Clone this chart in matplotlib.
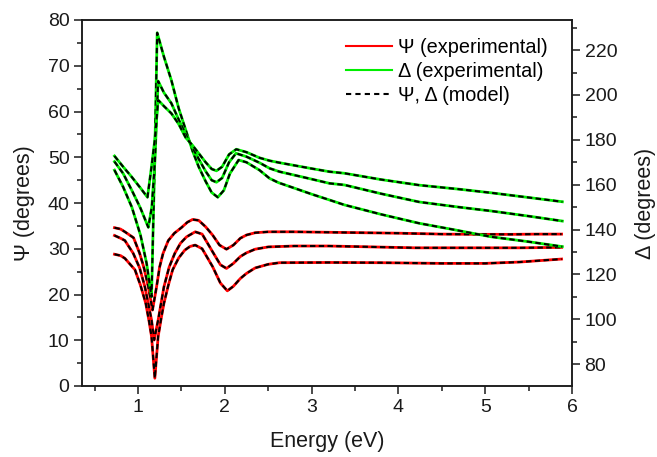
import numpy as np
import matplotlib
matplotlib.use('Agg')
import matplotlib.pyplot as plt
from matplotlib.lines import Line2D
from matplotlib.ticker import MultipleLocator

plt.rcParams['font.family'] = ['Liberation Sans', 'DejaVu Sans']

# Psi (left axis), three angles of incidence
e_psi_top = [0.73, 0.80, 0.85, 0.95, 1.02, 1.07, 1.12, 1.168, 1.215, 1.25, 1.29, 1.35,
             1.42, 1.50, 1.57, 1.63, 1.70, 1.78, 1.86, 1.94, 2.02, 2.10, 2.18, 2.25,
             2.35, 2.5, 2.8, 3.2, 3.6, 4.0, 4.5, 4.9, 5.3, 5.6, 5.88]
psi_top = [34.6, 34.3, 33.7, 32.4, 29.0, 25.8, 21.7, 16.6, 21.7, 26.0, 29.0, 31.8,
           33.4, 34.6, 35.8, 36.4, 36.2, 34.8, 33.0, 30.8, 29.9, 30.8, 32.3, 33.0,
           33.5, 33.7, 33.7, 33.6, 33.5, 33.4, 33.2, 33.15, 33.15, 33.2, 33.2]

e_psi_mid = [0.73, 0.80, 0.85, 0.946, 1.02, 1.08, 1.125, 1.157, 1.187, 1.233, 1.30, 1.36,
             1.425, 1.49, 1.56, 1.66, 1.74, 1.86, 1.95, 2.02, 2.10, 2.18, 2.25, 2.35,
             2.5, 2.8, 3.2, 3.7, 4.2, 4.9, 5.4, 5.88]
psi_mid = [32.9, 32.3, 31.8, 29.0, 25.8, 21.7, 17.5, 14.4, 10.05, 14.4, 21.7, 26.0,
           29.0, 31.2, 32.6, 33.7, 33.2, 29.35, 26.5, 25.7, 26.8, 28.3, 29.1, 29.9,
           30.4, 30.6, 30.6, 30.4, 30.2, 30.2, 30.2, 30.3]

e_psi_bot = [0.73, 0.80, 0.85, 0.966, 1.03, 1.09, 1.13, 1.157, 1.195, 1.233, 1.27, 1.30,
             1.35, 1.40, 1.47, 1.54, 1.60, 1.66, 1.74, 1.86, 1.95, 2.03, 2.10, 2.18,
             2.25, 2.35, 2.5, 2.63, 3.2, 3.8, 4.5, 5.0, 5.4, 5.88]
psi_bot = [28.8, 28.5, 27.9, 25.4, 22.0, 18.1, 14.0, 10.8, 1.7, 10.8, 15.0, 18.1,
           22.0, 25.4, 28.0, 29.7, 30.5, 30.8, 30.0, 26.1, 22.5, 20.8, 21.8, 23.5,
           24.6, 25.8, 26.6, 26.95, 27.0, 26.95, 26.8, 26.8, 27.1, 27.75]

# Delta (right axis)
e_del_a = [0.73, 0.83, 0.93, 1.03, 1.10, 1.157, 1.19, 1.222, 1.30, 1.385, 1.47, 1.55,
           1.63, 1.70, 1.78, 1.85, 1.92, 1.99, 2.06, 2.16, 2.25, 2.4, 2.517, 2.62,
           2.8, 3.0, 3.207, 3.379, 3.8, 4.241, 4.62, 5.066, 5.5, 5.889]
del_a = [166.5, 159.0, 150.0, 137.5, 125.0, 110.1, 165.0, 227.7, 217.0, 206.6, 194.0, 184.5,
         175.0, 168.0, 161.5, 156.5, 154.4, 157.5, 165.0, 171.0, 170.0, 166.5, 162.8, 160.9,
         158.5, 155.8, 153.2, 151.0, 146.8, 142.8, 140.1, 136.8, 134.6, 132.4]

e_del_b = [0.73, 0.83, 0.93, 1.03, 1.12, 1.16, 1.195, 1.233, 1.30, 1.385, 1.47, 1.55,
           1.63, 1.70, 1.78, 1.85, 1.905, 1.97, 2.05, 2.13, 2.25, 2.4, 2.517, 2.632,
           3.0, 3.207, 3.379, 3.8, 4.241, 4.7, 5.066, 5.5, 5.889]
del_b = [170.3, 165.0, 157.5, 149.5, 141.0, 150.0, 170.0, 206.2, 201.0, 196.3, 189.0, 182.5,
         176.5, 171.5, 166.0, 162.0, 161.1, 163.0, 170.0, 174.0, 172.5, 169.8, 167.3, 165.8,
         162.5, 160.6, 159.9, 156.0, 152.3, 150.0, 148.3, 146.0, 143.8]

e_del_c = [0.73, 0.83, 0.93, 1.03, 1.11, 1.15, 1.195, 1.233, 1.30, 1.385, 1.47, 1.55,
           1.63, 1.70, 1.78, 1.85, 1.905, 1.97, 2.05, 2.133, 2.25, 2.4, 2.517, 2.632,
           3.0, 3.207, 3.379, 3.8, 4.241, 4.7, 5.066, 5.5, 5.889]
del_c = [172.8, 168.0, 163.4, 158.5, 154.4, 166.0, 180.0, 197.7, 195.0, 191.8, 187.0, 181.0,
         177.5, 174.0, 170.0, 167.0, 166.2, 168.0, 173.5, 175.8, 174.5, 172.0, 170.7, 169.8,
         167.2, 165.8, 165.1, 162.3, 159.8, 158.0, 156.4, 154.3, 152.4]

psi_curves = [(e_psi_top, psi_top), (e_psi_mid, psi_mid), (e_psi_bot, psi_bot)]
del_curves = [(e_del_a, del_a), (e_del_b, del_b), (e_del_c, del_c)]

dash = (2.6, 1.6)
col_txt = '#1a1a1a'

fig = plt.figure(figsize=(6.57, 4.57), dpi=100)
ax1 = fig.add_axes([82/657, 1 - 386/457, 490/657, 366/457])
ax2 = ax1.twinx()

for e, p in psi_curves:
    ax1.plot(e, p, color='#ff0000', lw=2.0)
    ax1.plot(e, p, color='black', lw=1.5, dashes=dash)
for e, d in del_curves:
    ax2.plot(e, d, color='#00ee00', lw=2.0)
    ax2.plot(e, d, color='black', lw=1.5, dashes=dash)

ax1.set_xlim(0.356, 6)
ax1.set_ylim(0, 80)
ax2.set_ylim(70.3, 233.4)

ax1.xaxis.set_major_locator(MultipleLocator(1))
ax1.xaxis.set_minor_locator(MultipleLocator(0.5))
ax1.yaxis.set_major_locator(MultipleLocator(10))
ax1.yaxis.set_minor_locator(MultipleLocator(5))
ax2.yaxis.set_major_locator(MultipleLocator(20))
ax2.yaxis.set_minor_locator(MultipleLocator(10))

for ax in (ax1, ax2):
    ax.tick_params(which='major', direction='out', length=6, width=1.1,
                   labelsize=14, colors=col_txt, pad=3)
    ax.tick_params(which='minor', direction='out', length=3.5, width=1.1, colors=col_txt)
    for s in ax.spines.values():
        s.set_linewidth(1.1)
        s.set_color(col_txt)

ax1.set_xlabel('Energy (eV)', fontsize=15.5, color=col_txt, labelpad=11)
ax1.set_ylabel('Ψ (degrees)', fontsize=15.5, color=col_txt, labelpad=9)
ax2.set_ylabel('Δ (degrees)', fontsize=15.5, color=col_txt, labelpad=13)

handles = [Line2D([], [], color='#ff0000', lw=1.5),
           Line2D([], [], color='#00ee00', lw=1.5),
           Line2D([], [], color='black', lw=1.5, dashes=(2.5, 2.0))]
labels = ['Ψ (experimental)', 'Δ (experimental)', 'Ψ, Δ (model)']
ax2.legend(handles, labels, loc='upper right', bbox_to_anchor=(0.95, 0.95),
           frameon=False, fontsize=14.3, handlelength=2.3, handletextpad=0.3,
           labelspacing=0.25, borderpad=0, borderaxespad=0)

fig.savefig('out.png', dpi=100)
